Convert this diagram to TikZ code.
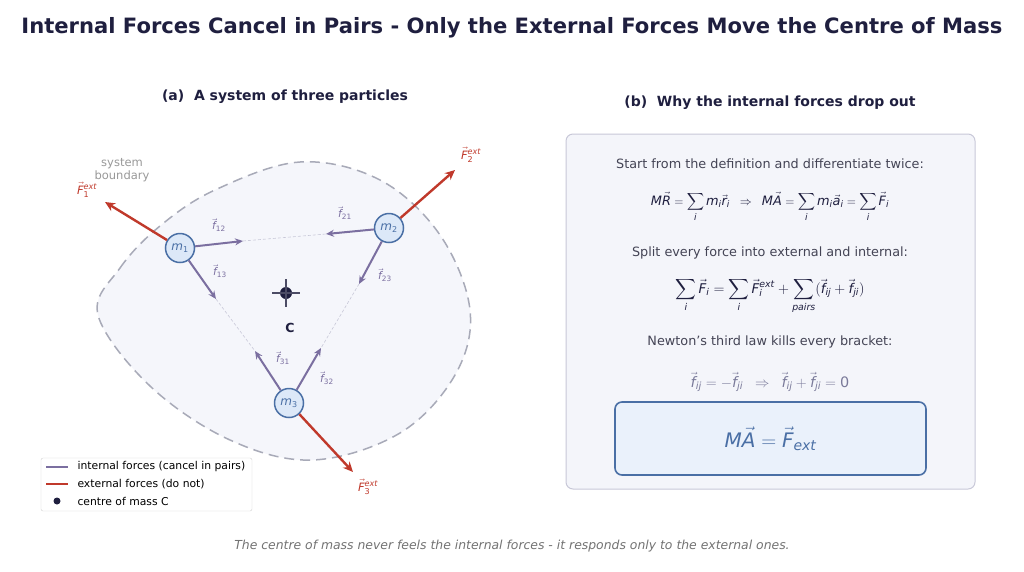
\documentclass[tikz,border=0pt]{standalone}
\usepackage{amsmath}
\usepackage{mathspec}
\setmainfont{DejaVu Sans}
\setmathsfont(Digits,Latin){DejaVu Sans}
\usetikzlibrary{arrows.meta}

\definecolor{navy}{HTML}{1F1F3F}
\definecolor{intcol}{HTML}{7B6FA0}
\definecolor{extcol}{HTML}{C0392B}
\definecolor{massblue}{HTML}{4A6FA5}
\definecolor{massfill}{HTML}{DCE8F8}
\definecolor{blobfill}{HTML}{F5F6FB}
\definecolor{blobline}{HTML}{A8AAB8}
\definecolor{panelfill}{HTML}{F4F5FA}
\definecolor{panelline}{HTML}{C8C8D8}
\definecolor{txtgray}{HTML}{444455}
\definecolor{eqgray}{HTML}{7A7A9A}
\definecolor{boxfill}{HTML}{EAF1FB}

\tikzset{
  mass/.style = {circle, draw=massblue, fill=massfill, line width=1.5pt,
    minimum size=29pt, inner sep=0pt, text=massblue, font=\fontsize{12}{13}\selectfont},
  intforce/.style = {draw=intcol, line width=2pt, -{Stealth[length=8pt,width=7pt]}},
  extforce/.style = {draw=extcol, line width=2.4pt, -{Stealth[length=10pt,width=9pt]}},
  pairline/.style = {draw=panelline, line width=0.6pt, densely dashed},
  flabel/.style = {text=intcol, font=\fontsize{10.5}{11}\selectfont},
  Flabel/.style = {text=extcol, font=\fontsize{11.5}{12}\selectfont},
  bodytext/.style = {text=txtgray, font=\fontsize{12.8}{14}\selectfont},
  eqtext/.style = {text=navy, font=\fontsize{13}{15}\selectfont},
  subtitle/.style = {text=navy, font=\bfseries\fontsize{14}{16}\selectfont},
  legtext/.style = {anchor=west, text=black, font=\fontsize{10.8}{12}\selectfont}
}

\begin{document}
\begin{tikzpicture}[x=1pt, y=-1pt]
  \useasboundingbox[fill=white] (0,0) rectangle (1024,571);

  \node[text=navy, font=\bfseries\fontsize{21.1}{24}\selectfont] (title) at (512,28)
    {Internal Forces Cancel in Pairs - Only the External Forces Move the Centre of Mass};
  \node[subtitle] (suba) at (285,97) {(a)\ \ A system of three particles};
  \node[subtitle] (subb) at (770,103) {(b)\ \ Why the internal forces drop out};

  % system boundary
  \draw[fill=blobfill, draw=blobline, line width=1.5pt, dash pattern=on 10pt off 6pt]
    plot[smooth cycle, tension=0.6] coordinates {(98,315) (120,268) (160,226) (215,190)
    (300,162) (380,180) (440,235) (470,310) (455,375) (400,433) (313,460) (230,440) (150,386)};
  \node[text=black!40, align=center, font=\fontsize{11.5}{13}\selectfont] (bound) at (122,170)
    {system\\boundary};

  % centre of mass
  \node[circle, fill=navy, minimum size=12pt, inner sep=0pt] (C) at (286,293) {};
  \draw[navy!80, line width=1.5pt] (272,293) -- (300,293) (286,279) -- (286,307);
  \node[text=navy, font=\bfseries\fontsize{12.5}{13}\selectfont] (Clabel) at (290,328) {C};

  % particles
  \node[mass] (m1) at (180,248) {$m_1$};
  \node[mass] (m2) at (389,228) {$m_2$};
  \node[mass] (m3) at (289,403) {$m_3$};

  % internal forces
  \coordinate (t12) at (243,241);
  \coordinate (t21) at (326,234);
  \coordinate (t13) at (216,299);
  \coordinate (t31) at (255,351);
  \coordinate (t23) at (359,284);
  \coordinate (t32) at (321,348);
  \draw[pairline] (t12) -- (t21);
  \draw[pairline] (t13) -- (t31);
  \draw[pairline] (t23) -- (t32);
  \draw[intforce] (m1) -- (t12);
  \draw[intforce] (m2) -- (t21);
  \draw[intforce] (m1) -- (t13);
  \draw[intforce] (m3) -- (t31);
  \draw[intforce] (m2) -- (t23);
  \draw[intforce] (m3) -- (t32);
  \node[flabel] (l12) at (219,225) {$\vec f_{12}$};
  \node[flabel] (l21) at (345,213) {$\vec f_{21}$};
  \node[flabel] (l13) at (220,271) {$\vec f_{13}$};
  \node[flabel] (l23) at (385,275) {$\vec f_{23}$};
  \node[flabel] (l31) at (283,358) {$\vec f_{31}$};
  \node[flabel] (l32) at (327,378) {$\vec f_{32}$};

  % external forces
  \coordinate (e1) at (105,202);
  \coordinate (e2) at (455,170);
  \coordinate (e3) at (353,472);
  \draw[extforce] (m1) -- (e1);
  \draw[extforce] (m2) -- (e2);
  \draw[extforce] (m3) -- (e3);
  \node[Flabel] (F1) at (87,190) {$\vec F_1^{ext}$};
  \node[Flabel] (F2) at (471,155) {$\vec F_2^{ext}$};
  \node[Flabel] (F3) at (368,487) {$\vec F_3^{ext}$};

  % legend
  \node[draw=black!18, fill=white, rounded corners=2pt, minimum width=211pt,
    minimum height=53pt] (legend) at (146.5,484.5) {};
  \draw[intcol, line width=2pt] (46,467) -- (68,467);
  \draw[extcol, line width=2pt] (46,484) -- (68,484);
  \node[circle, fill=navy, minimum size=7pt, inner sep=0pt] (legdot) at (57,501) {};
  \node[legtext] (leg1) at (74,467) {internal forces (cancel in pairs)};
  \node[legtext] (leg2) at (74,484) {external forces (do not)};
  \node[legtext] (leg3) at (74,501) {centre of mass C};

  % panel (b)
  \node[draw=panelline, fill=panelfill, line width=1pt, rounded corners=7pt,
    minimum width=409pt, minimum height=355pt] (panel) at (770.5,311.5) {};
  \node[bodytext] (s1) at (770,164) {Start from the definition and differentiate twice:};
  \node[eqtext, font=\fontsize{12.9}{15}\selectfont] (eq1) at (770,207)
    {$\displaystyle M\vec R=\sum_i m_i\vec r_i\;\;\Rightarrow\;\;M\vec A=\sum_i m_i\vec a_i=\sum_i\vec F_i$};
  \node[bodytext] (s2) at (770,253) {Split every force into external and internal:};
  \node[eqtext, font=\fontsize{13.4}{15}\selectfont] (eq2) at (770,296)
    {$\displaystyle \sum_i\vec F_i=\sum_i\vec F_i^{ext}+\sum_{pairs}(\vec f_{ij}+\vec f_{ji})$};
  \node[bodytext] (s3) at (770,342) {Newton's third law kills every bracket:};
  \node[eqtext, text=eqgray, font=\fontsize{14.4}{16}\selectfont] (eq3) at (770,382)
    {$\vec f_{ij}=-\vec f_{ji}\;\;\Rightarrow\;\;\vec f_{ij}+\vec f_{ji}=0$};
  \node[draw=massblue, fill=boxfill, line width=1.6pt, rounded corners=7pt,
    minimum width=311pt, minimum height=73pt, text=massblue,
    font=\fontsize{20}{22}\selectfont] (result) at (770.5,438.5) {$M\vec A=\vec F_{ext}$};

  \node[text=black!55, font=\itshape\fontsize{12.4}{14}\selectfont] (caption) at (512,546)
    {The centre of mass never feels the internal forces - it responds only to the external ones.};
\end{tikzpicture}
\end{document}
